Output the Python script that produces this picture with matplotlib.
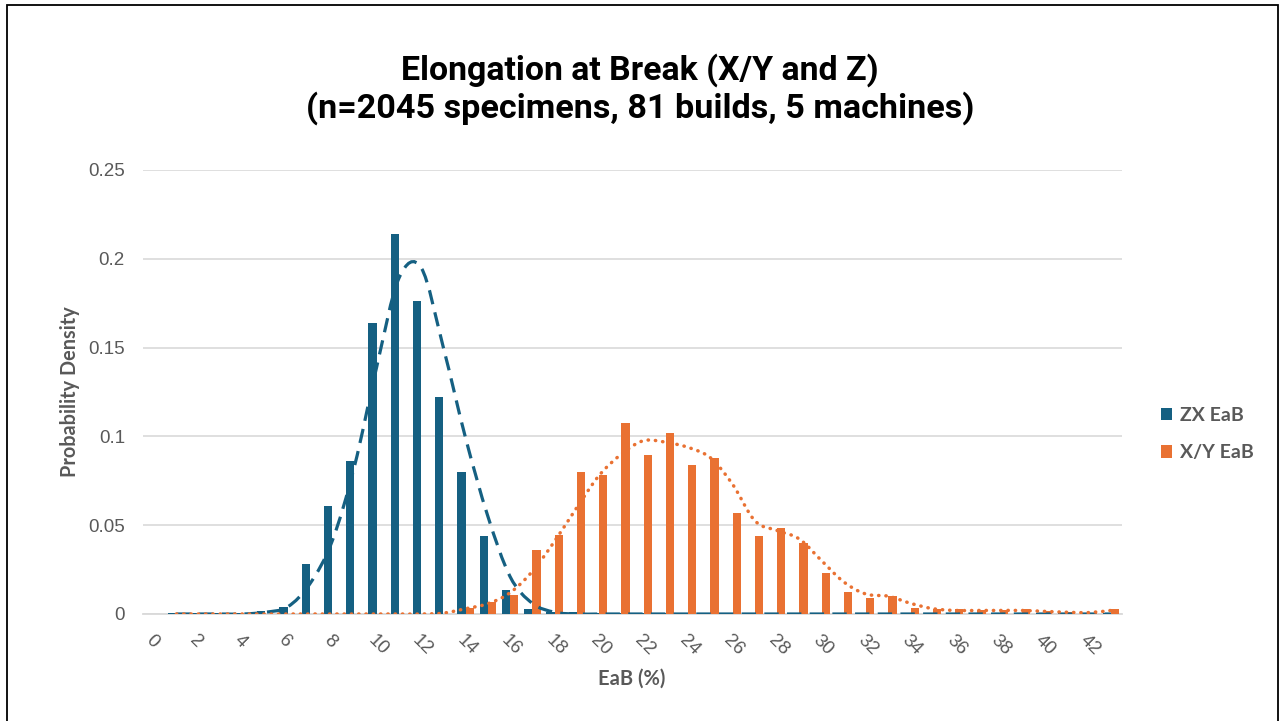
import numpy as np
import matplotlib
matplotlib.use("Agg")
import matplotlib.pyplot as plt
from matplotlib.path import Path
from matplotlib.patches import PathPatch, Rectangle, Patch

# ---------------- data ----------------
categories = list(range(0, 44))
tick_labels = [str(c) if c % 2 == 0 else "" for c in categories]

zx_bars = [np.nan, 0.0005, 0.0005, 0.0005, 0.0005, 0.0015, 0.004, 0.028, 0.061, 0.086,
           0.164, 0.214, 0.176, 0.122, 0.080, 0.044, 0.0135, 0.003, 0.001, 0.001,
           0.0003, 0.0003, 0.0003, 0.0003, 0.0003, 0.0003, 0.0003, 0.0003, 0.0003, 0.0003,
           0.0003, 0.0003, 0.0003, 0.0003, 0.0003, 0.0003, 0.0003, 0.0003, 0.0003, 0.0003,
           0.0003, 0.0003, 0.0003, 0.0003]

xy_bars = [np.nan, 0, 0, 0, 0, 0, 0, 0, 0, 0,
           0, 0, 0, 0, 0.0034, 0.0066, 0.0107, 0.0362, 0.0447, 0.0798,
           0.0785, 0.1074, 0.0895, 0.1019, 0.0839, 0.0878, 0.0567, 0.0441, 0.0482, 0.0398,
           0.0229, 0.0122, 0.009, 0.0103, 0.0032, 0.0028, 0.003, 0.0024, 0.0024, 0.003,
           0.0015, 0.001, 0.0005, 0.003]

zx_fit = [np.nan, 0, 0, 0, 0, 0.001, 0.004, 0.017, 0.041, 0.083,
          0.139, 0.189, 0.195, 0.150, 0.099, 0.055, 0.021, 0.006, 0.001, 0,
          0, 0, 0, 0, 0, 0, 0, 0, 0, 0,
          0, 0, 0, 0, 0, 0, 0, 0, 0, 0,
          0, 0, 0, 0]

xy_fit = [np.nan, 0, 0, 0, 0, 0, 0, 0, 0, 0,
          0, 0, 0, 0.0005, 0.003, 0.0058, 0.012, 0.024, 0.041, 0.060,
          0.078, 0.090, 0.0976, 0.0967, 0.0938, 0.088, 0.073, 0.0525, 0.047, 0.0422,
          0.030, 0.018, 0.0112, 0.010, 0.006, 0.003, 0.002, 0.002, 0.002, 0.002,
          0.0015, 0.001, 0.0008, 0.002]

series_names = ["ZX EaB", "X/Y EaB"]

# ---------------- style ----------------
BLUE = "#156082"
ORANGE = "#E97132"
GREY = "#595959"
GRID = "#D9D9D9"

fig = plt.figure(figsize=(12.8, 7.21), dpi=100)
fig.patch.set_facecolor("white")
ax = fig.add_axes([143 / 1280, 1 - 614 / 721, (1122 - 143) / 1280, (614 - 170) / 721])

x = np.array(categories, dtype=float)
w = 0.37
ax.bar(x - w / 2, zx_bars, width=w, color=BLUE, zorder=3)
ax.bar(x + w / 2, xy_bars, width=w, color=ORANGE, zorder=3)


def smooth_path(xs, ys):
    pts = [(a, b) for a, b in zip(xs, ys) if not np.isnan(b)]
    pts = np.array(pts)
    n = len(pts)
    verts = [tuple(pts[0])]
    codes = [Path.MOVETO]
    for i in range(n - 1):
        p0 = pts[i - 1] if i > 0 else pts[i]
        p1 = pts[i]
        p2 = pts[i + 1]
        p3 = pts[i + 2] if i + 2 < n else pts[i + 1]
        c1 = p1 + (p2 - p0) / 6.0
        c2 = p2 - (p3 - p1) / 6.0
        verts += [tuple(c1), tuple(c2), tuple(p2)]
        codes += [Path.CURVE4] * 3
    return Path(verts, codes)


ax.add_patch(PathPatch(smooth_path(x, zx_fit), facecolor="none", edgecolor=BLUE,
                       lw=2.3, linestyle=(0, (4.5, 2.6)), zorder=4))
ax.add_patch(PathPatch(smooth_path(x, xy_fit), facecolor="none", edgecolor=ORANGE,
                       lw=2.5, linestyle=(0, (0.1, 2.0)), capstyle="round", zorder=4))

ax.set_xlim(-0.5, 43.5)
ax.set_ylim(0, 0.25)
ax.set_yticks([0, 0.05, 0.1, 0.15, 0.2, 0.25])
ax.set_yticklabels(["0", "0.05", "0.1", "0.15", "0.2", "0.25"])
ax.set_xticks(x)
ax.set_xticklabels(tick_labels)
ax.grid(axis="y", color=GRID, lw=1.2, zorder=0)
ax.set_axisbelow(True)
for s in ["top", "right", "left"]:
    ax.spines[s].set_visible(False)
ax.spines["bottom"].set_color(GRID)
ax.spines["bottom"].set_linewidth(1.3)
ax.tick_params(axis="both", length=0, colors=GREY)
for lab in ax.get_yticklabels():
    lab.set_fontfamily("Liberation Sans")
    lab.set_fontsize(13.5)
    lab.set_color(GREY)
ax.tick_params(axis="y", pad=13)
for lab in ax.get_xticklabels():
    lab.set_fontfamily("Liberation Sans")
    lab.set_fontsize(13.5)
    lab.set_color(GREY)
    lab.set_rotation(-45)
    lab.set_ha("left")
    lab.set_va("top")
    lab.set_rotation_mode("anchor")
ax.tick_params(axis="x", pad=13)

fig.text(70 / 1280, 1 - 392 / 721, "Probability Density", rotation=90, ha="center", va="center",
         fontfamily="Lato", fontweight="bold", fontsize=14.3, color=GREY)
fig.text(632 / 1280, 1 - 679 / 721, "EaB (%)", ha="center", va="center",
         fontfamily="Lato", fontweight="bold", fontsize=14.5, color=GREY)

fig.text(640 / 1280, 1 - 70 / 721, "Elongation at Break (X/Y and Z)", ha="center", va="center",
         fontfamily="Roboto", fontweight="bold", fontsize=24.4, color="black")
fig.text(640 / 1280, 1 - 108 / 721, "(n=2045 specimens, 81 builds, 5 machines)", ha="center",
         va="center", fontfamily="Roboto", fontweight="bold", fontsize=24.6, color="black")

handles = [Patch(facecolor=BLUE), Patch(facecolor=ORANGE)]
leg = fig.legend(handles, series_names, loc="center left",
                 bbox_to_anchor=(1143 / 1280, 1 - 434 / 721), frameon=False,
                 handlelength=0.6, handleheight=0.6, handletextpad=0.4,
                 labelspacing=1.05, prop={"family": "Lato", "weight": "bold", "size": 14})
for t in leg.get_texts():
    t.set_color(GREY)

fig.add_artist(Rectangle((7 / 1280, -0.05), (1278 - 7) / 1280, 1.05 - 5 / 721,
                         transform=fig.transFigure, fill=False, edgecolor="black", lw=1.3))

fig.savefig("out.png", dpi=100, facecolor="white")
